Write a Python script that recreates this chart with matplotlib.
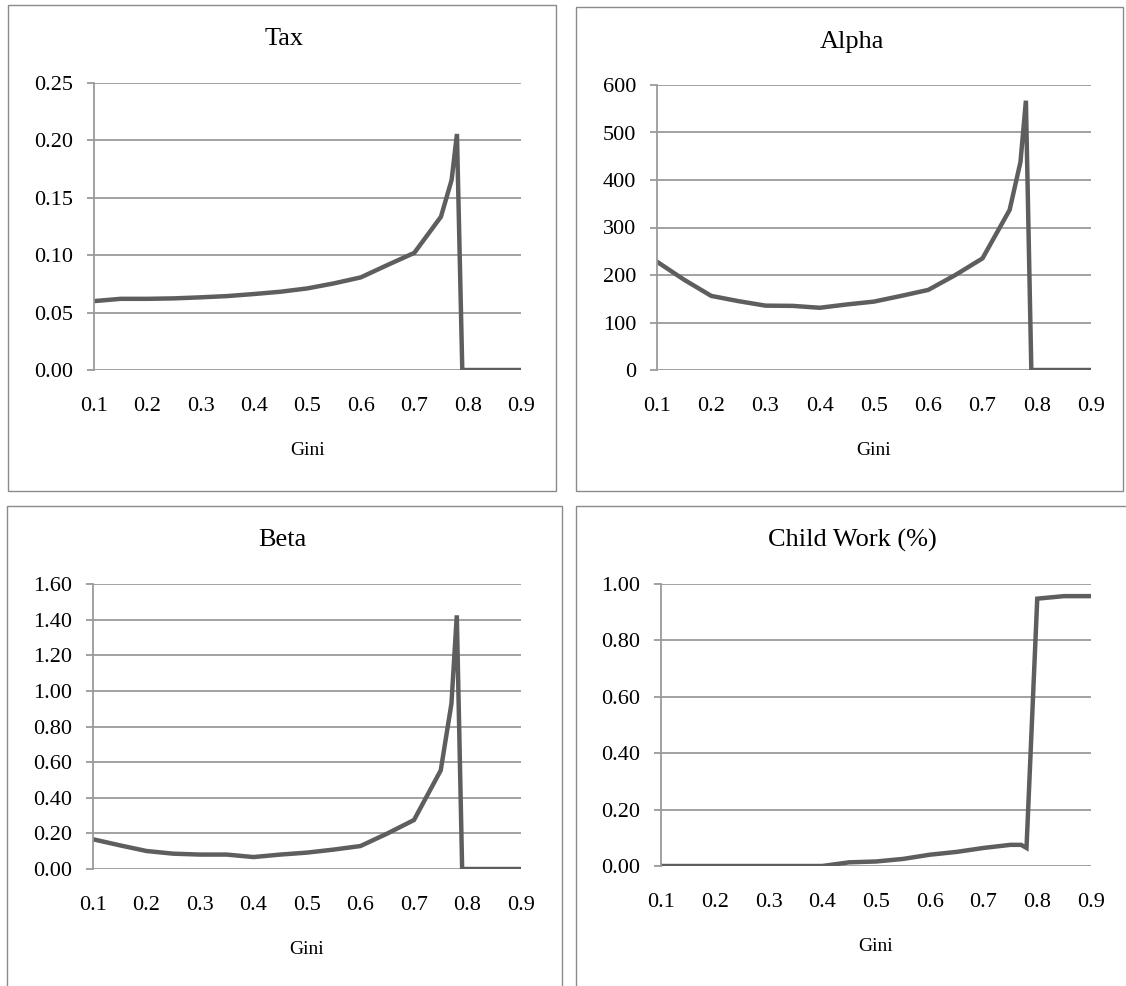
import matplotlib
matplotlib.use("Agg")
import matplotlib.pyplot as plt
from matplotlib.patches import Rectangle
from matplotlib.ticker import FormatStrFormatter

plt.rcParams['font.family'] = ['Liberation Serif', 'DejaVu Serif']

# gini values (shared by tax, alpha, beta)
gini = [0.10, 0.15, 0.20, 0.25, 0.30, 0.35, 0.40, 0.45, 0.50, 0.55, 0.60,
        0.65, 0.70, 0.75, 0.77, 0.78, 0.79, 0.80, 0.85, 0.90]

tax = [0.060, 0.062, 0.062, 0.0624, 0.0633, 0.0644, 0.0662, 0.0682, 0.0711,
       0.0755, 0.0807, 0.0915, 0.102, 0.1335, 0.1655, 0.2056, 0.0, 0.0, 0.0, 0.0]

alpha = [228, 190, 156, 145, 135.5, 135, 131, 138, 144, 156, 168.6,
         200, 235, 337, 438, 567, 0, 0, 0, 0]

beta = [0.167, 0.133, 0.101, 0.086, 0.081, 0.081, 0.067, 0.081, 0.092, 0.109,
        0.129, 0.199, 0.275, 0.554, 0.929, 1.424, 0.0, 0.0, 0.0, 0.0]

# child work has no point at 0.79
gini_child = [0.10, 0.15, 0.20, 0.25, 0.30, 0.35, 0.40, 0.45, 0.50, 0.55, 0.60,
              0.65, 0.70, 0.75, 0.77, 0.78, 0.80, 0.85, 0.90]
child = [0.0, 0.0, 0.0, 0.0, 0.0, 0.0, 0.0, 0.013, 0.016, 0.025, 0.040,
         0.050, 0.064, 0.075, 0.075, 0.064, 0.948, 0.957, 0.957]

x_ticks = [0.1, 0.2, 0.3, 0.4, 0.5, 0.6, 0.7, 0.8, 0.9]

W, H = 1126, 986
fig = plt.figure(figsize=(W / 100, H / 100), dpi=100)

LINE = '#5e5e5e'
GRID = '#9a9a9a'
BOX = '#8a8a8a'


def px_axes(l, t, r, b):
    return fig.add_axes([l / W, 1 - b / H, (r - l) / W, (b - t) / H])


def box(l, t, r, b):
    fig.add_artist(Rectangle((l / W, 1 - b / H), (r - l) / W, (b - t) / H,
                             transform=fig.transFigure, fill=False,
                             edgecolor=BOX, linewidth=1.0))


panels = [
    # title, x, y, yticks, fmt, axes px, box px, title px
    ("Tax", gini, tax, [0, 0.05, 0.10, 0.15, 0.20, 0.25], '%.2f',
     (94, 83, 521, 370), (8, 5, 556, 491), (284, 39)),
    ("Alpha", gini, alpha, [0, 100, 200, 300, 400, 500, 600], '%d',
     (657, 85, 1091, 370), (576, 7, 1123, 491), (852, 42)),
    ("Beta", gini, beta, [0, 0.2, 0.4, 0.6, 0.8, 1.0, 1.2, 1.4, 1.6], '%.2f',
     (93, 584, 521, 869), (7, 506, 562, 990), (282, 540)),
    ("Child Work (%)", gini_child, child, [0, 0.2, 0.4, 0.6, 0.8, 1.0], '%.2f',
     (661, 584, 1091, 866), (576, 506, 1130, 990), (852, 540)),
]

for title, xs, ys, yt, fmt, ax_px, box_px, t_px in panels:
    box(*box_px)
    ax = px_axes(*ax_px)
    ax.plot(xs, ys, color=LINE, linewidth=3.2, solid_joinstyle='miter')
    ax.set_xlim(0.1, 0.9)
    ax.set_ylim(yt[0], yt[-1])
    ax.set_xticks(x_ticks)
    ax.set_xticklabels([f'{v:.1f}' for v in x_ticks])
    ax.set_yticks(yt)
    ax.yaxis.set_major_formatter(FormatStrFormatter(fmt))
    ax.yaxis.grid(True, color=GRID, linewidth=1.3)
    ax.set_axisbelow(True)
    for s in ['top', 'right', 'bottom']:
        ax.spines[s].set_visible(False)
    ax.spines['left'].set_color(GRID)
    ax.spines['left'].set_linewidth(1.3)
    ax.tick_params(axis='y', direction='out', length=5, width=1.3,
                   color=GRID, pad=10, labelsize=16)
    ax.tick_params(axis='x', length=0, pad=19.5, labelsize=16)
    ax.annotate('Gini', xy=(0.5, 0), xycoords='axes fraction',
                xytext=(0, -58), textcoords='offset points',
                ha='center', va='center', fontsize=14)
    fig.text(t_px[0] / W, 1 - t_px[1] / H, title, ha='center', va='center',
             fontsize=19)

fig.savefig('out.png', dpi=100, facecolor='white')
